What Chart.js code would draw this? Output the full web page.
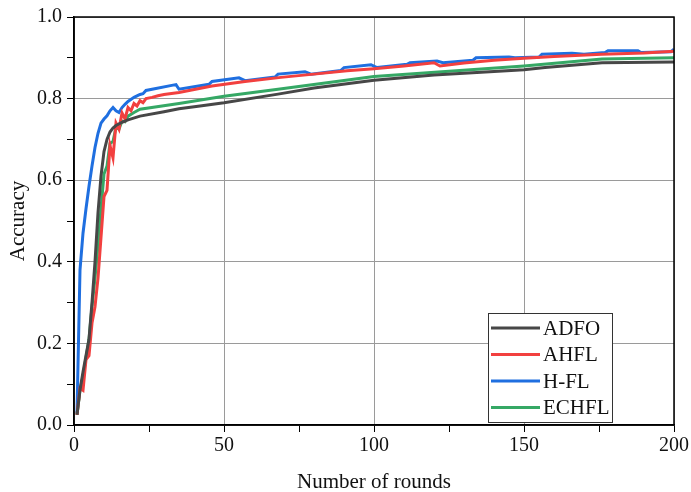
<!DOCTYPE html>
<html lang="en">
<head>
<meta charset="UTF-8">
<script src="https://cdn.jsdelivr.net/npm/chart.js@4/dist/chart.umd.min.js"></script>
<title>Accuracy</title>
<style>
  body { margin: 0; background: #fff; }
</style>
</head>
<body>
<canvas id="myChart" width="691" height="492"></canvas>
<script>
// values
const adfoRounds = [1, 2, 3, 4, 5, 6, 7, 8, 9, 10, 11, 12, 13, 14, 16, 18, 22, 30, 35, 42, 50, 68, 80, 100, 120, 150, 157, 176, 200];
const adfoAcc = [0.025, 0.086, 0.13, 0.17, 0.21, 0.30, 0.40, 0.52, 0.61, 0.67, 0.70, 0.718, 0.728, 0.734, 0.742, 0.748, 0.757, 0.768, 0.775, 0.782, 0.79, 0.811, 0.826, 0.845, 0.858, 0.871, 0.876, 0.888, 0.89];

const ahflRounds = [1, 2, 3, 4, 5, 6, 7, 8, 9, 10, 11, 12, 13, 14, 15, 16, 17, 18, 19, 20, 21, 22, 23, 24, 26, 28, 30, 35, 46, 57, 69, 80, 91, 100, 110, 120, 122, 130, 140, 150, 160, 176, 190, 200];
const ahflAcc = [0.025, 0.09, 0.085, 0.16, 0.17, 0.25, 0.29, 0.36, 0.46, 0.56, 0.575, 0.685, 0.655, 0.74, 0.725, 0.765, 0.75, 0.778, 0.77, 0.788, 0.782, 0.795, 0.79, 0.80, 0.803, 0.807, 0.81, 0.815, 0.831, 0.842, 0.852, 0.86, 0.868, 0.873, 0.88, 0.888, 0.88, 0.887, 0.894, 0.899, 0.903, 0.909, 0.912, 0.916];

const hflRounds = [1, 2, 3, 4, 5, 6, 7, 8, 9, 10, 11, 12, 13, 14, 15, 16, 17, 18, 20, 22, 23, 24, 33, 34, 35, 40, 45, 46, 55, 57, 67, 68, 77, 79, 89, 90, 99, 101, 111, 112, 121, 123, 133, 134, 145, 147, 155, 156, 166, 170, 177, 178, 188, 189, 199, 200];
const hflAcc = [0.03, 0.38, 0.47, 0.53, 0.585, 0.635, 0.68, 0.715, 0.74, 0.75, 0.758, 0.77, 0.778, 0.77, 0.766, 0.778, 0.786, 0.793, 0.803, 0.81, 0.812, 0.82, 0.833, 0.834, 0.823, 0.829, 0.835, 0.842, 0.851, 0.844, 0.853, 0.86, 0.866, 0.86, 0.869, 0.876, 0.883, 0.876, 0.884, 0.888, 0.892, 0.888, 0.894, 0.9, 0.902, 0.9, 0.902, 0.909, 0.911, 0.909, 0.913, 0.917, 0.917, 0.913, 0.915, 0.921];

const echflRounds = [1, 2, 3, 4, 5, 6, 7, 8, 9, 10, 11, 12, 13, 14, 15, 16, 17, 18, 20, 22, 35, 50, 68, 100, 150, 176, 200];
const echflAcc = [0.025, 0.086, 0.12, 0.165, 0.21, 0.29, 0.36, 0.44, 0.53, 0.615, 0.635, 0.69, 0.695, 0.73, 0.725, 0.745, 0.743, 0.757, 0.766, 0.774, 0.788, 0.806, 0.823, 0.854, 0.88, 0.897, 0.90];

const seriesNames = ['ADFO', 'AHFL', 'H-FL', 'ECHFL'];
const seriesColors = ['#474747', '#f2403f', '#1f6fe0', '#35a865'];

const xTickLabels = [0, 50, 100, 150, 200];
const yTickLabels = [0.0, 0.2, 0.4, 0.6, 0.8, 1.0];

function pts(xs, ys) {
    return xs.map((x, i) => ({ x: x, y: ys[i] }));
}

const serif = 'Liberation Serif, Times New Roman, serif';

// box around plot area + legend drawn inside the plot
const framePlugin = {
    id: 'frame',
    afterDraw(chart) {
        const ctx = chart.ctx;
        const a = chart.chartArea;
        ctx.save();
        ctx.strokeStyle = '#000';
        ctx.lineWidth = 1.5;
        ctx.strokeRect(a.left, a.top, a.right - a.left, a.bottom - a.top);

        // legend
        const bx = a.right - 186, by = a.bottom - 112, bw = 124, bh = 109;
        ctx.fillStyle = '#fff';
        ctx.fillRect(bx, by, bw, bh);
        ctx.strokeStyle = '#333';
        ctx.lineWidth = 1;
        ctx.strokeRect(bx + 0.5, by + 0.5, bw, bh);
        ctx.font = '21px ' + serif;
        ctx.textBaseline = 'middle';
        chart.data.datasets.forEach((ds, i) => {
            const y = by + 15 + i * 26.5;
            ctx.strokeStyle = ds.borderColor;
            ctx.lineWidth = 3;
            ctx.beginPath();
            ctx.moveTo(bx + 3, y);
            ctx.lineTo(bx + 52, y);
            ctx.stroke();
            ctx.fillStyle = '#111';
            ctx.fillText(ds.label, bx + 55, y + 1);
        });
        ctx.restore();
    }
};

const datasets = [
    pts(adfoRounds, adfoAcc),
    pts(ahflRounds, ahflAcc),
    pts(hflRounds, hflAcc),
    pts(echflRounds, echflAcc)
].map((d, i) => ({
    label: seriesNames[i],
    data: d,
    borderColor: seriesColors[i],
    borderWidth: 3,
    pointRadius: 0,
    tension: 0,
    fill: false
}));

const ctx = document.getElementById('myChart').getContext('2d');
const myChart = new Chart(ctx, {
    type: 'line',
    data: { datasets: datasets },
    options: {
        responsive: false,
        animation: false,
        layout: { padding: { top: 16, right: 16, left: 0, bottom: 0 } },
        plugins: {
            legend: { display: false },
            tooltip: { enabled: false }
        },
        scales: {
            x: {
                type: 'linear',
                min: 0,
                max: 200,
                afterFit: s => { s.height = 67; },
                ticks: {
                    stepSize: 25,
                    autoSkip: false,
                    maxRotation: 0,
                    padding: 2,
                    color: '#111',
                    font: { family: serif, size: 20 },
                    callback: v => xTickLabels.includes(v) ? String(v) : ''
                },
                grid: {
                    color: c => (c.tick && xTickLabels.includes(c.tick.value)) ? '#9a9a9a' : 'rgba(0,0,0,0)',
                    tickColor: '#000',
                    tickLength: 7,
                    lineWidth: 1
                },
                border: { color: '#000', width: 1.5 },
                title: {
                    display: true,
                    text: 'Number of rounds',
                    color: '#111',
                    font: { family: serif, size: 21 },
                    padding: { top: 0, bottom: -3 }
                }
            },
            y: {
                min: 0,
                max: 1,
                afterFit: s => { s.width = 74; },
                ticks: {
                    stepSize: 0.1,
                    autoSkip: false,
                    padding: 5,
                    color: '#111',
                    font: { family: serif, size: 20 },
                    callback: v => {
                        const r = Math.round(v * 10) / 10;
                        return yTickLabels.some(t => Math.abs(t - r) < 1e-6) && Math.abs(v - r) < 1e-6 ? r.toFixed(1) : '';
                    }
                },
                grid: {
                    color: c => {
                        const v = c.tick ? Math.round(c.tick.value * 10) : 1;
                        return v % 2 === 0 ? '#9a9a9a' : 'rgba(0,0,0,0)';
                    },
                    tickColor: '#000',
                    tickLength: 7,
                    lineWidth: 1
                },
                border: { color: '#000', width: 1.5 },
                title: {
                    display: true,
                    text: 'Accuracy',
                    color: '#111',
                    font: { family: serif, size: 21 },
                    padding: { top: 6, bottom: 0 }
                }
            }
        }
    },
    plugins: [framePlugin]
});
</script>
</body>
</html>
